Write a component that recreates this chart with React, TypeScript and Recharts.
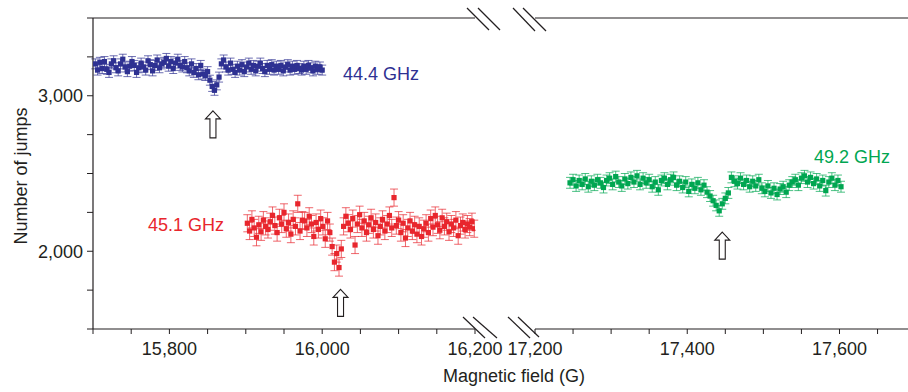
import React from 'react';
import {
  ScatterChart,
  Scatter,
  XAxis,
  YAxis,
  ErrorBar,
  ReferenceLine,
  ReferenceDot,
  Customized,
} from 'recharts';

// ---------- data ----------
const blueField = [
  15703, 15706, 15709, 15712, 15715, 15718, 15721, 15724, 15727, 15730,
  15733, 15736, 15739, 15742, 15745, 15748, 15751, 15754, 15757, 15760,
  15763, 15766, 15769, 15772, 15775, 15778, 15781, 15784, 15787, 15790,
  15793, 15796, 15799, 15802, 15805, 15808, 15811, 15814, 15817, 15820,
  15823, 15826, 15829, 15832, 15835, 15838, 15841, 15844, 15847, 15850,
  15853, 15856, 15859, 15862, 15865, 15868, 15871, 15874, 15877, 15880,
  15883, 15886, 15889, 15892, 15895, 15898, 15901, 15904, 15907, 15910,
  15913, 15916, 15919, 15922, 15925, 15928, 15931, 15934, 15937, 15940,
  15943, 15946, 15949, 15952, 15955, 15958, 15961, 15964, 15967, 15970,
  15973, 15976, 15979, 15982, 15985, 15988, 15991, 15994, 15997, 16000,
];
const blueJumps = [
  3205, 3165, 3215, 3175, 3220, 3170, 3150, 3205, 3225, 3180,
  3160, 3205, 3235, 3185, 3155, 3190, 3220, 3195, 3150, 3180,
  3210, 3185, 3165, 3225, 3200, 3160, 3195, 3230, 3180, 3205,
  3215, 3240, 3190, 3220, 3175, 3210, 3235, 3195, 3185, 3220,
  3180, 3160, 3205, 3150, 3175, 3135, 3195, 3140, 3130, 3155,
  3100, 3060, 3035, 3070, 3120, 3205, 3230, 3185, 3165, 3210,
  3170, 3150, 3190, 3165, 3200, 3155, 3185, 3210, 3170, 3195,
  3160, 3190, 3210, 3175, 3155, 3195, 3170, 3200, 3165, 3190,
  3170, 3195, 3160, 3185, 3200, 3165, 3190, 3170, 3195, 3175,
  3165, 3190, 3170, 3195, 3180, 3160, 3190, 3170, 3185, 3165,
];
const blueError = 32;

const redField = [
  15902, 15905, 15908, 15911, 15914, 15917, 15920, 15923, 15926, 15929,
  15932, 15935, 15938, 15941, 15944, 15947, 15950, 15953, 15956, 15959,
  15962, 15965, 15968, 15971, 15974, 15977, 15980, 15983, 15986, 15989,
  15992, 15995, 15998, 16001, 16004, 16007, 16010, 16013, 16016, 16019,
  16022, 16025, 16028, 16031, 16034, 16037, 16040, 16043, 16046, 16049,
  16052, 16055, 16058, 16061, 16064, 16067, 16070, 16073, 16076, 16079,
  16082, 16085, 16088, 16091, 16094, 16097, 16100, 16103, 16106, 16109,
  16112, 16115, 16118, 16121, 16124, 16127, 16130, 16133, 16136, 16139,
  16142, 16145, 16148, 16151, 16154, 16157, 16160, 16163, 16166, 16169,
  16172, 16175, 16178, 16181, 16184, 16187, 16190, 16193, 16196, 16199,
];
const redJumps = [
  2180, 2130, 2205, 2150, 2090, 2170, 2125, 2200, 2160, 2140,
  2190, 2230, 2165, 2120, 2215, 2175, 2250, 2145, 2185, 2110,
  2205, 2160, 2305, 2130, 2200, 2195, 2150, 2225, 2175, 2095,
  2185, 2140, 2210, 2160, 2080, 2195, 2120, 2030, 1930, 1985,
  1895, 2015, 2160, 2225, 2180, 2140, 2210, 2040, 2175, 2235,
  2150, 2195, 2120, 2170, 2215, 2140, 2185, 2100, 2160, 2205,
  2130, 2175, 2230, 2150, 2345, 2165, 2200, 2120, 2180, 2085,
  2150, 2195, 2130, 2170, 2110, 2160, 2095, 2145, 2180, 2120,
  2210, 2155, 2230, 2170, 2135, 2215, 2160, 2190, 2125, 2175,
  2150, 2200, 2100, 2165, 2185, 2140, 2175, 2155, 2190, 2145,
];
const redError = 55;

const greenField = [
  17246, 17250, 17254, 17258, 17262, 17266, 17270, 17274, 17278, 17282,
  17286, 17290, 17294, 17298, 17302, 17306, 17310, 17314, 17318, 17322,
  17326, 17330, 17334, 17338, 17342, 17346, 17350, 17354, 17358, 17362,
  17366, 17370, 17374, 17378, 17382, 17386, 17390, 17394, 17398, 17402,
  17406, 17410, 17414, 17418, 17422, 17426, 17430, 17434, 17438, 17442,
  17446, 17450, 17454, 17458, 17462, 17466, 17470, 17474, 17478, 17482,
  17486, 17490, 17494, 17498, 17502, 17506, 17510, 17514, 17518, 17522,
  17526, 17530, 17534, 17538, 17542, 17546, 17550, 17554, 17558, 17562,
  17566, 17570, 17574, 17578, 17582, 17586, 17590, 17594, 17598, 17602,
];
const greenJumps = [
  2440, 2460, 2420, 2455, 2430, 2465, 2415, 2450, 2425, 2460,
  2440, 2410, 2455, 2470, 2430, 2480, 2445, 2420, 2465, 2435,
  2475, 2445, 2485, 2430, 2470, 2440, 2460, 2415, 2445, 2395,
  2455, 2470, 2430, 2460, 2475, 2425, 2450, 2410, 2445, 2385,
  2430, 2405, 2440, 2395, 2425, 2380, 2355, 2325, 2295, 2260,
  2305, 2340, 2375, 2475, 2450, 2435, 2470, 2430, 2455, 2415,
  2450, 2420, 2460, 2405, 2385, 2420, 2375, 2405, 2365, 2400,
  2415, 2380, 2425, 2445, 2460, 2425, 2470, 2485, 2445, 2475,
  2435, 2465, 2420, 2455, 2390, 2445, 2470, 2425, 2455, 2415,
];
const greenError = 35;

const leftDomain = [15700, 16200];
const rightDomain = [17200, 17690];
const yDomain = [1500, 3500];

const leftTicks = [15700, 15750, 15800, 15850, 15900, 15950, 16000, 16050, 16100, 16150, 16200];
const leftTickLabels = [15800, 16000, 16200];
const rightTicks = [17200, 17250, 17300, 17350, 17400, 17450, 17500, 17550, 17600, 17650];
const rightTickLabels = [17200, 17400, 17600];
const yTicks = [1500, 1750, 2000, 2250, 2500, 2750, 3000, 3250, 3500];
const yTickLabels = [2000, 3000];

const seriesNames = ['44.4 GHz', '45.1 GHz', '49.2 GHz'];
// resonance arrows: [field, jumps at arrow tip]
const arrowBlue = [15857, 2903];
const arrowRed = [16024, 1755];
const arrowGreen = [17446, 2123];

// ---------- styling ----------
const BLUE = '#2e3192';
const RED = '#e8262d';
const GREEN = '#00a651';
const INK = '#231f20';
const FONT = '"Liberation Sans", Arial, Helvetica, sans-serif';
const FS = 18;

const zip = (xs: number[], ys: number[], err: number) =>
  xs.map((x, i) => ({ x, y: ys[i], err }));

const blueData = zip(blueField, blueJumps, blueError);
const redData = zip(redField, redJumps, redError);
const greenData = zip(greenField, greenJumps, greenError);

const fmt = (labels: number[]) => (v: number) =>
  labels.includes(v) ? v.toLocaleString('en-US') : '';

const Arrow = (props: any) => {
  const { cx, cy } = props;
  if (cx == null || cy == null) return null;
  const d = `M${cx} ${cy} L${cx + 7.5} ${cy + 8} L${cx + 3} ${cy + 8} L${cx + 3} ${cy + 27} L${cx - 3} ${cy + 27} L${cx - 3} ${cy + 8} L${cx - 7.5} ${cy + 8} Z`;
  return <path d={d} fill="#fff" stroke={INK} strokeWidth={1.1} />;
};

const Square = (color: string) => (props: any) => {
  const { cx, cy } = props;
  if (cx == null || cy == null) return null;
  return <rect x={cx - 2.6} y={cy - 2.6} width={5.2} height={5.2} fill={color} />;
};

const LeftDecor = () => (
  <g>
    <text
      x={27}
      y={176}
      transform="rotate(-90, 27, 176)"
      textAnchor="middle"
      fontFamily={FONT}
      fontSize={FS}
      fill={INK}
    >
      Number of jumps
    </text>
    <text x={514} y={382} textAnchor="middle" fontFamily={FONT} fontSize={FS} fill={INK}>
      Magnetic field (G)
    </text>
    <text x={343} y={80} fontFamily={FONT} fontSize={FS} fill={BLUE}>
      {seriesNames[0]}
    </text>
    <text x={148} y={231} fontFamily={FONT} fontSize={FS} fill={RED}>
      {seriesNames[1]}
    </text>
    <text x={814} y={163} fontFamily={FONT} fontSize={FS} fill={GREEN}>
      {seriesNames[2]}
    </text>
    <g stroke={INK} strokeWidth={1.2}>
      <line x1={467} y1={8} x2={489} y2={30} />
      <line x1={478} y1={8} x2={500} y2={30} />
      <line x1={513} y1={8} x2={535} y2={31} />
      <line x1={523} y1={8} x2={546} y2={31} />
      <line x1={463} y1={317} x2={485} y2={338} />
      <line x1={473} y1={317} x2={497} y2={338} />
      <line x1={508} y1={317} x2={530} y2={338} />
      <line x1={518} y1={317} x2={539} y2={337} />
    </g>
  </g>
);

const tickStyle = { fontFamily: FONT, fontSize: FS, fill: INK };
const axisLine = { stroke: INK, strokeWidth: 1.2 };
const tickLine = { stroke: INK, strokeWidth: 1 };

export default function App() {
  return (
    <div style={{ position: 'absolute', left: 0, top: 0, width: 908, height: 392, background: '#fff' }}>
      <div style={{ position: 'absolute', left: 0, top: 0 }}>
        <ScatterChart width={908} height={392} margin={{ top: 18, right: 433, bottom: 0, left: 0 }}>
          <XAxis
            type="number"
            dataKey="x"
            domain={leftDomain}
            ticks={leftTicks}
            interval={0}
            tickFormatter={fmt(leftTickLabels)}
            tick={tickStyle}
            tickSize={5}
            tickMargin={8}
            axisLine={axisLine}
            tickLine={tickLine}
            height={63}
            allowDataOverflow
          />
          <YAxis
            type="number"
            dataKey="y"
            domain={yDomain}
            ticks={yTicks}
            interval={0}
            tickFormatter={fmt(yTickLabels)}
            tick={tickStyle}
            tickSize={6}
            tickMargin={4}
            axisLine={axisLine}
            tickLine={tickLine}
            width={93}
            allowDataOverflow
          />
          <ReferenceLine y={3500} stroke={INK} strokeWidth={1.2} />
          <Scatter data={blueData} isAnimationActive={false} shape={Square(BLUE)}>
            <ErrorBar dataKey="err" direction="y" width={4} stroke={BLUE} strokeOpacity={0.7} strokeWidth={1} isAnimationActive={false} />
          </Scatter>
          <Scatter data={redData} isAnimationActive={false} shape={Square(RED)}>
            <ErrorBar dataKey="err" direction="y" width={4} stroke={RED} strokeOpacity={0.7} strokeWidth={1} isAnimationActive={false} />
          </Scatter>
          <ReferenceDot x={arrowBlue[0]} y={arrowBlue[1]} r={0} shape={Arrow} />
          <ReferenceDot x={arrowRed[0]} y={arrowRed[1]} r={0} shape={Arrow} />
          <Customized component={LeftDecor} />
        </ScatterChart>
      </div>
      <div style={{ position: 'absolute', left: 0, top: 0 }}>
        <ScatterChart width={908} height={392} margin={{ top: 18, right: 0, bottom: 0, left: 535 }}>
          <XAxis
            type="number"
            dataKey="x"
            domain={rightDomain}
            ticks={rightTicks}
            interval={0}
            tickFormatter={fmt(rightTickLabels)}
            tick={tickStyle}
            tickSize={5}
            tickMargin={8}
            axisLine={axisLine}
            tickLine={tickLine}
            height={63}
            allowDataOverflow
          />
          <YAxis type="number" dataKey="y" domain={yDomain} hide width={0} allowDataOverflow />
          <ReferenceLine y={3500} stroke={INK} strokeWidth={1.2} />
          <Scatter data={greenData} isAnimationActive={false} shape={Square(GREEN)}>
            <ErrorBar dataKey="err" direction="y" width={4} stroke={GREEN} strokeOpacity={0.7} strokeWidth={1} isAnimationActive={false} />
          </Scatter>
          <ReferenceDot x={arrowGreen[0]} y={arrowGreen[1]} r={0} shape={Arrow} />
        </ScatterChart>
      </div>
    </div>
  );
}
